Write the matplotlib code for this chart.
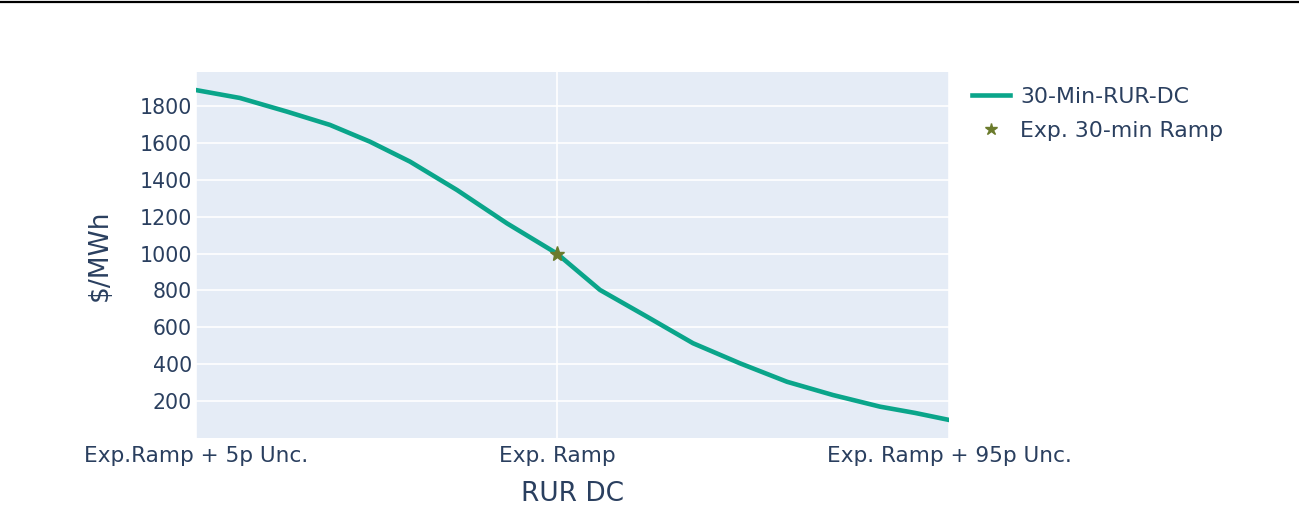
import numpy as np
import matplotlib
matplotlib.use("Agg")
import matplotlib.pyplot as plt
from matplotlib.lines import Line2D

# ramp positions (MW, relative) and price curve
ramp = [0, 44, 91, 134, 174, 214, 261, 311, 361, 404, 451, 497, 544, 591, 637, 684, 719, 753]
price = [1887, 1844, 1770, 1698, 1607, 1499, 1345, 1164, 1000, 803, 658, 514, 405, 305, 233, 170, 136, 98]
exp_ramp = 361
exp_price = 1000
tick_pos = [0, 361, 753]
tick_labels = ["Exp.Ramp + 5p Unc.", "Exp. Ramp", "Exp. Ramp + 95p Unc."]
y_ticks = [200, 400, 600, 800, 1000, 1200, 1400, 1600, 1800]

plt.rcParams['font.family'] = ['DejaVu Sans']
txt = "#2a3f5f"

fig = plt.figure(figsize=(12.99, 5.12), dpi=100)
ax = fig.add_axes([196 / 1299, 1 - 438 / 512, (949 - 196) / 1299, (438 - 72) / 512])
ax.set_facecolor("#E5ECF6")

ax.plot(ramp, price, color="#0AA58A", lw=3.3, label="30-Min-RUR-DC", zorder=3,
        solid_joinstyle="round")
ax.plot([exp_ramp], [exp_price], marker="*", ms=11, color="#6B7B2C", ls="none",
        label="Exp. 30-min Ramp", zorder=4)

ax.set_xlim(ramp[0], ramp[-1])
ax.set_ylim(0, 1985)
ax.set_xticks(tick_pos)
ax.set_xticklabels(tick_labels)
ax.set_yticks(y_ticks)
ax.grid(True, color="white", lw=1.2)
ax.set_axisbelow(True)
for s in ax.spines.values():
    s.set_visible(False)
ax.tick_params(length=0, colors=txt)
ax.tick_params(axis="y", labelsize=14.8, pad=3)
ax.tick_params(axis="x", labelsize=15.6, pad=6)

ax.set_xlabel("RUR DC", fontsize=19, color=txt, va="center")
ax.set_ylabel("$/MWh", fontsize=19, color=txt, va="center")
ax.xaxis.set_label_coords(0.5, (438 - 494) / 366)
ax.yaxis.set_label_coords((100 - 196) / 753, 0.5)

leg = ax.legend(loc="upper left", bbox_to_anchor=((972 - 196) / 753, (438 - 87) / 366),
                frameon=False, fontsize=15.8, labelcolor=txt, handlelength=1.75,
                borderaxespad=0, borderpad=0, handletextpad=0.45, labelspacing=0.62,
                markerscale=0.85)

# thin rule along the top of the image
fig.add_artist(Line2D([0, 647 / 1299], [0.996, 0.996], color="black", lw=1.6))
fig.add_artist(Line2D([649 / 1299, 1], [0.996, 0.996], color="black", lw=1.6))

fig.savefig("out.png", dpi=100)
